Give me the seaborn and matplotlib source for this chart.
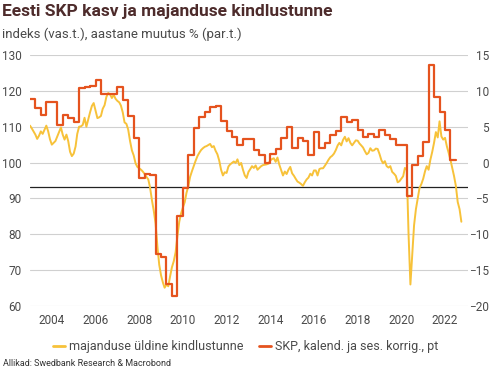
import matplotlib
matplotlib.use("Agg")
import matplotlib.pyplot as plt
import matplotlib.dates as mdates
from matplotlib.lines import Line2D
import seaborn as sns
import numpy as np
import pandas as pd

# majanduse üldine kindlustunne (monthly, left axis), 2003-01 .. 2022-10
esi = [
    110.3, 109.5, 108.7, 107.8, 106.6, 107.5, 108.7, 108.0, 109.2, 110.3, 108.7, 106.5,  # 2003
    105.0, 105.5, 106.0, 107.3, 108.5, 109.8, 107.8, 106.4, 107.8, 106.0, 103.0, 101.8,  # 2004
    102.5, 104.5, 108.0, 110.0, 110.1, 110.5, 112.5, 110.0, 112.0, 114.0, 115.8, 116.6,  # 2005
    114.5, 112.4, 112.6, 113.0, 115.0, 116.0, 118.3, 119.4, 119.0, 118.0, 118.9, 117.8,  # 2006
    117.2, 116.8, 115.9, 114.0, 111.2, 110.8, 109.2, 106.0, 103.4, 102.0, 99.8, 98.8,    # 2007
    98.4, 98.0, 97.5, 96.8, 96.0, 95.3, 93.0, 89.5, 86.5, 83.0, 76.5, 71.5,              # 2008
    68.5, 66.5, 65.1, 66.0, 65.5, 68.3, 70.8, 72.5, 75.0, 79.5, 83.5, 85.8,              # 2009
    87.5, 89.0, 91.5, 93.4, 96.0, 97.6, 99.0, 100.5, 101.8, 102.7, 103.5, 104.0,         # 2010
    104.4, 104.6, 104.9, 105.2, 104.3, 104.6, 103.3, 102.3, 100.5, 98.0, 96.4, 97.3,     # 2011
    97.1, 98.9, 99.5, 99.9, 100.3, 99.9, 100.9, 99.3, 99.9, 98.0, 96.4, 95.7,            # 2012
    97.4, 98.2, 99.0, 98.5, 99.2, 98.0, 98.5, 99.0, 99.3, 99.4, 99.5, 99.7,              # 2013
    100.6, 101.0, 101.2, 100.2, 101.4, 99.4, 97.9, 96.4, 97.5, 96.8, 98.0, 98.8,         # 2014
    97.0, 96.3, 95.5, 94.7, 94.4, 94.0, 93.5, 94.5, 95.3, 95.8, 96.9, 96.4,              # 2015
    97.8, 97.8, 96.4, 98.2, 98.4, 98.4, 99.1, 99.9, 100.8, 101.5, 101.9, 102.5,          # 2016
    103.5, 104.8, 105.5, 104.8, 106.3, 107.2, 105.9, 106.8, 105.5, 104.8, 105.5, 106.2,  # 2017
    106.1, 105.3, 104.8, 104.2, 103.2, 102.3, 102.7, 104.0, 103.3, 103.4, 103.9, 103.8,  # 2018
    102.4, 100.7, 99.8, 100.4, 99.0, 98.6, 99.0, 97.4, 96.9, 96.3, 94.5, 94.8,           # 2019
    95.5, 96.2, 98.5, 98.0, 80.0, 66.0, 74.0, 82.5, 87.0, 90.0, 93.0, 94.0,              # 2020
    95.5, 97.6, 99.0, 98.0, 100.8, 103.0, 105.5, 108.5, 107.0, 111.5, 107.3, 106.4,      # 2021
    106.9, 104.5, 102.8, 100.8, 98.5, 96.2, 93.5, 89.0, 87.0, 83.5,                      # 2022
]

# SKP, kalend. ja ses. korrig., aastane muutus % (quarterly, right axis), 2003Q1 .. 2022Q2
gdp = [
    8.9, 7.6, 6.6, 8.5,
    8.5, 5.3, 6.7, 6.2,
    5.6, 10.4, 10.6, 10.7,
    11.5, 9.6, 9.5, 9.6,
    10.6, 8.7, 6.5, 3.4,
    -2.1, -1.6, -1.7, -12.7,
    -13.1, -16.9, -18.6, -7.4,
    -3.5, 1.1, 4.8, 6.4,
    7.0, 7.8, 7.9, 5.8,
    4.4, 3.6, 2.4, 3.3,
    3.3, 1.8, 1.1, 0.0,
    1.2, 1.9, 3.4, 5.0,
    2.0, 3.4, 3.0, 1.1,
    4.2, 2.0, 2.7, 3.9,
    4.4, 6.3, 5.6, 5.9,
    4.5, 3.5, 4.0, 3.5,
    4.6, 3.8, 3.3, 2.5,
    2.5, -4.6, -0.4, 0.9,
    2.9, 13.6, 9.2, 7.1,
    4.6, 0.3,
]

ref_level = 93.2  # black reference line, left axis units
left_ticks = [60, 70, 80, 90, 100, 110, 120, 130]
right_ticks = [-20, -15, -10, -5, 0, 5, 10, 15]
year_ticks = list(range(2004, 2023, 2))

yellow = "#F7C23A"
red = "#E5531E"
text_col = "#4a4a4a"
title_col = "#4d2b2b"

esi_dates = pd.date_range("2003-01-01", periods=len(esi), freq="MS")
gdp_dates = pd.date_range("2003-01-01", periods=len(gdp) + 1, freq="QS")
gdp_steps = gdp + [gdp[-1]]  # close the last quarter's step

sns.set_style("white")
plt.rcParams["font.family"] = ["Roboto", "DejaVu Sans"]

fig = plt.figure(figsize=(4.91, 3.77), dpi=100)
ax = fig.add_axes([30 / 491, 71 / 377, 438 / 491, 251 / 377])
ax2 = ax.twinx()

for v in left_ticks:
    ax.axhline(v, color="#d0d0d0", lw=0.8, zorder=0)
ax.axhline(ref_level, color="#222222", lw=0.9, zorder=1)

sns.lineplot(x=esi_dates, y=esi, ax=ax, color=yellow, lw=1.4, zorder=3)
sns.lineplot(x=gdp_dates, y=gdp_steps, ax=ax2, color=red, lw=1.6,
             drawstyle="steps-post", zorder=4)

ax.set_ylim(60, 130)
ax2.set_ylim(-20, 15)
ax.set_xlim(pd.Timestamp("2003-01-01"), pd.Timestamp("2023-01-20"))

ax.set_yticks(left_ticks)
ax2.set_yticks(right_ticks)
ax.set_xticks([pd.Timestamp(f"{y}-01-01") for y in year_ticks])
ax.xaxis.set_major_formatter(mdates.DateFormatter("%Y"))

for a in (ax, ax2):
    a.grid(False)
    for s in a.spines.values():
        s.set_visible(False)
    a.set_xlabel("")
    a.set_ylabel("")

ax.tick_params(axis="y", length=0, pad=6, labelsize=8.5, labelcolor=text_col)
ax.tick_params(axis="x", length=0, pad=6, labelsize=8.5, labelcolor=text_col)
ax2.tick_params(axis="y", length=0, pad=15, labelsize=8.5, labelcolor=text_col)
for t in ax2.get_yticklabels():
    t.set_horizontalalignment("right")

fig.text(0.004, 0.99, "Eesti SKP kasv ja majanduse kindlustunne", fontsize=12.5,
         fontweight="bold", color=title_col, va="top", ha="left")
fig.text(0.004, 0.928, "indeks (vas.t.), aastane muutus % (par.t.)", fontsize=9.5,
         color=text_col, va="top", ha="left")

handles = [Line2D([], [], color=yellow, lw=2), Line2D([], [], color=red, lw=2)]
labels = ["majanduse üldine kindlustunne", "SKP, kalend. ja ses. korrig., pt"]
fig.legend(handles, labels, loc="center", bbox_to_anchor=(0.5, 0.08), ncol=2,
           frameon=False, fontsize=9, handlelength=1.0, handletextpad=0.3,
           columnspacing=1.2, labelcolor=text_col)

fig.text(0.006, 0.024, "Allikad: Swedbank Research & Macrobond", fontsize=6.5,
         color="#333333", va="bottom", ha="left")

fig.savefig("out.png", dpi=100)
